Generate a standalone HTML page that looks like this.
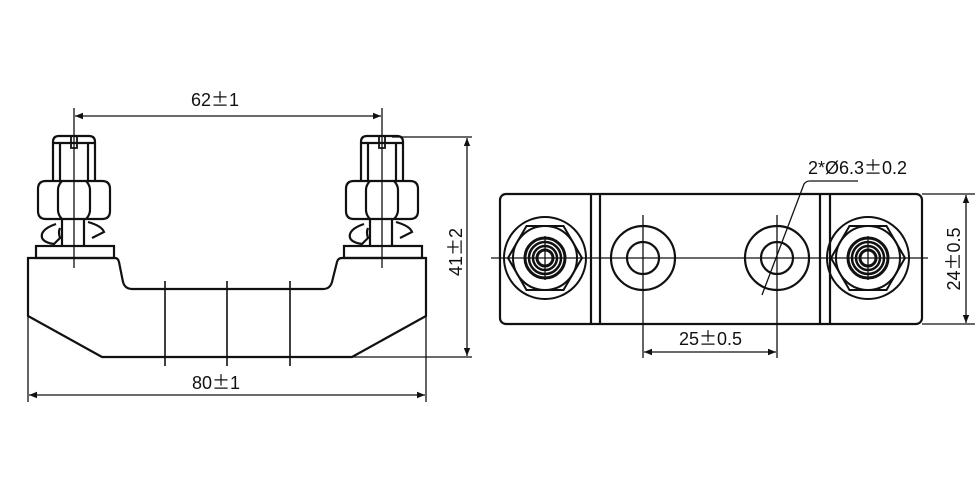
<!DOCTYPE html>
<html><head><style>body{margin:0;background:#fff}svg{display:block}text{font-family:"Liberation Sans",sans-serif;font-size:18px;fill:#111}.pm{font-family:"Noto Sans CJK SC",sans-serif}</style></head><body>
<svg width="980" height="496" viewBox="0 0 980 496" xmlns="http://www.w3.org/2000/svg">
<defs>
<marker id="a" viewBox="0 0 10 10" refX="10" refY="5" markerWidth="10" markerHeight="8" orient="auto-start-reverse" markerUnits="userSpaceOnUse"><path d="M0,1 L10,5 L0,9z" fill="#111"/></marker>
<g id="bolt" fill="none" stroke="#111" stroke-width="2.2">
<path d="M-21,181 V142 Q-21,136 -15,136 H15 Q21,136 21,142 V181"/>
<path d="M-21,143 H21 M-14,143 V181 M14,143 V181"/>
<path d="M-3,136 V148 H3 V136" stroke-width="1.8"/>
<path d="M-28,181 H28 Q36,181 36,189 V211 Q36,219 28,219 H-28 Q-36,219 -36,211 V189 Q-36,181 -28,181 Z"/>
<path d="M-12,181 Q-16,185 -16,190 V210 Q-16,215 -12,219 M12,181 Q16,185 16,190 V210 Q16,215 12,219"/>
<path d="M-12,219 V246 M10,219 V246 M-18,224 Q-30,228 -32,234 Q-34,242 -20,244 L-14,238 Q-16,232 -14,228 M14,222 Q28,226 30,232 L18,238"/>
<rect x="-38" y="246" width="78" height="12"/>
</g>
<g id="term" fill="none" stroke="#111" stroke-width="2">
<circle r="41"/><polygon points="37,0 18.5,32 -18.5,32 -37,0 -18.5,-32 18.5,-32"/><circle r="32"/><circle r="20" stroke-width="3"/><circle r="16" stroke-width="2.5"/><circle r="12" stroke-width="2.5"/><circle r="8" stroke-width="3"/>
</g>
</defs>
<g fill="none" stroke="#111" stroke-width="2.2">
<path d="M28,258 H115 Q118,258 119,262 L123,282 Q125,289 132,289 H323 Q330,289 332,282 L337,262 Q338,258 342,258 H426 V316 L352,357 H102 L28,316 Z"/>
<path d="M165,281 V366 M227,281 V366 M290,281 V366" stroke-width="1.6"/>
</g>
<use href="#bolt" x="74"/><use href="#bolt" x="382"/>
<g stroke="#111" stroke-width="1.3" fill="none">
<path d="M74,108 V268 M382,108 V268"/>
<line x1="75" y1="116" x2="381" y2="116" marker-start="url(#a)" marker-end="url(#a)"/>
<path d="M28,316 V402 M426,316 V402"/>
<line x1="29" y1="395" x2="425" y2="395" marker-start="url(#a)" marker-end="url(#a)"/>
<path d="M392,137 H472 M352,357 H472"/>
<line x1="467" y1="138" x2="467" y2="356" marker-start="url(#a)" marker-end="url(#a)"/>
</g>
<text x="191" y="106">62<tspan class="pm">±</tspan>1</text>
<text x="192" y="389">80<tspan class="pm">±</tspan>1</text>
<text transform="translate(462,252) rotate(-90)" text-anchor="middle">41<tspan class="pm">±</tspan>2</text>
<g fill="none" stroke="#111" stroke-width="2.2">
<rect x="500" y="194" width="422" height="130" rx="6"/>
<path d="M591,194 V324 M600,194 V324 M820,194 V324 M830,194 V324"/>
<circle cx="643" cy="258" r="32"/><circle cx="643" cy="258" r="16"/>
<circle cx="777" cy="258" r="32"/><circle cx="777" cy="258" r="16"/>
</g>
<use href="#term" x="545" y="258"/><use href="#term" x="868" y="258"/>
<g stroke="#111" stroke-width="1.3" fill="none">
<path d="M491,258 H928 M545,236 V280 M868,236 V280 M643,215 V358 M777,215 V358"/>
<line x1="644" y1="352" x2="776" y2="352" marker-start="url(#a)" marker-end="url(#a)"/>
<path d="M762,295 L804,184 Q806,181 810,181 H858"/>
<path d="M922,194 H975 M922,324 H975"/>
<line x1="966" y1="195" x2="966" y2="323" marker-start="url(#a)" marker-end="url(#a)"/>
</g>
<text x="808" y="174">2*Ø6.3<tspan class="pm">±</tspan>0.2</text>
<text x="679" y="345">25<tspan class="pm">±</tspan>0.5</text>
<text transform="translate(960,259) rotate(-90)" text-anchor="middle">24<tspan class="pm">±</tspan>0.5</text>
</svg>
</body></html>
